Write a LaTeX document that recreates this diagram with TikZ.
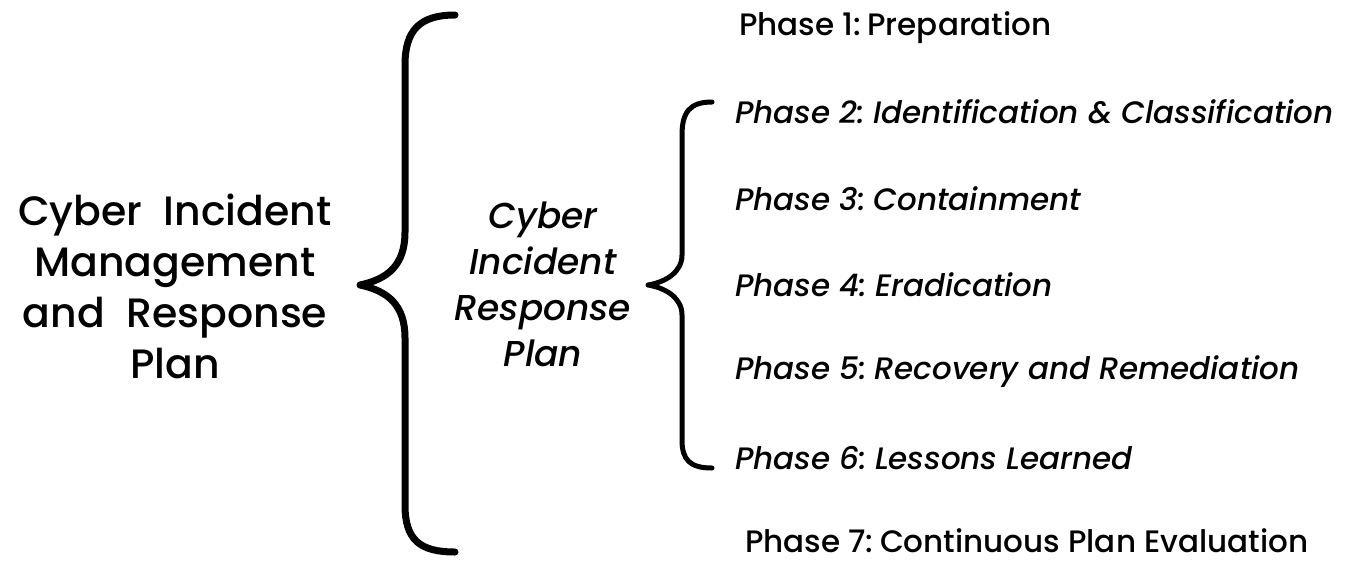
\documentclass[tikz,border=0pt]{standalone}
\usepackage{fontspec}
\setmainfont{Poppins}[UprightFont=* Medium,ItalicFont=* Medium Italic]
\usetikzlibrary{positioning}

\tikzset{phase/.style={font=\fontsize{31}{36}\selectfont,anchor=west,inner sep=0pt}}

\begin{document}
\begin{tikzpicture}[x=1pt,y=-1pt,line cap=round,line join=round]
  \useasboundingbox (0,0) rectangle (1348,562);
  \def\Bx{405}
  \def\bx{682}
  % left title and middle label
  \node[font=\fontsize{41}{51}\selectfont,align=center] (title) at (175,286)
    {Cyber\ \ Incident\\Management\\and\ \ Response\\Plan};
  \node[font=\fontsize{36}{46}\selectfont\itshape,align=center] (irp) at (543,284)
    {Cyber\\Incident\\Response\\Plan};
  % outer brace
  \draw[line width=7pt] (455,15) .. controls (420,15) and (\Bx,30) .. (\Bx,65)
    -- (\Bx,232) .. controls (\Bx,265) and (388,279) .. (360,285)
    .. controls (388,291) and (\Bx,305) .. (\Bx,338)
    -- (\Bx,505) .. controls (\Bx,540) and (420,552) .. (455,552);
  % inner brace
  \draw[line width=5pt] (712,102) .. controls (690,102) and (\bx,112) .. (\bx,135)
    -- (\bx,255) .. controls (\bx,272) and (666,282) .. (648,285)
    .. controls (666,288) and (\bx,298) .. (\bx,315)
    -- (\bx,440) .. controls (\bx,460) and (690,468) .. (712,468);
  % phases
  \node[phase] (ph1) at (739,28) {Phase 1:\kern-1.5pt\ Preparation};
  \foreach \n/\y/\t in {2/112/Identification \& Classification,3/199/Containment,
      4/285/Eradication,5/372/Recovery and Remediation,6/458/Lessons Learned} {
    \node[phase,font=\fontsize{31}{36}\selectfont\itshape] (ph\n) at (735,\y) {Phase \n:\kern-1.5pt\ \t};
  }
  \node[phase] (ph7) at (745,541) {Phase 7:\kern-1.5pt\ Continuous Plan Evaluation};
\end{tikzpicture}
\end{document}
